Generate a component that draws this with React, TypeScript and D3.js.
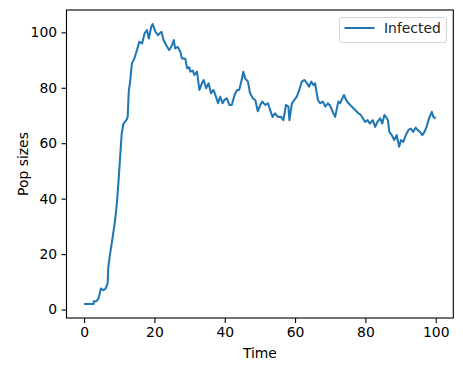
import { useEffect, useRef } from 'react';
import * as d3 from 'd3';

// values (Gillespie-style trajectory)
const TIME = [
  0, 2.7, 2.8, 3.5, 4.1, 4.8, 5.5, 6.1, 6.7, 6.9, 7.4, 8.0, 8.8, 9.3, 9.75, 10.2, 10.7, 11.2, 11.6, 12.1,
  12.4, 12.7, 13.15, 13.6, 14.3, 15.05, 15.7, 16.5, 17.2, 17.9, 18.4, 19.1, 19.5, 20.3, 21, 22, 22.6, 23.6, 24.2, 24.8,
  25.5, 25.9, 26.6, 27.4, 27.8, 28.8, 29.3, 29.9, 30.2, 30.9, 31.4, 32.1, 32.8, 33.5, 34, 34.7, 35.4, 36.1, 36.8, 37.5,
  38.1, 38.7, 39.4, 39.9, 40.6, 41.3, 42, 42.8, 43.5, 44.1, 44.7, 45.3, 45.8, 46.6, 47.2, 48, 48.7, 49.4, 50.1, 50.7,
  51.5, 52.3, 52.9, 53.6, 54.3, 55.1, 56, 56.7, 57.4, 58.1, 58.4, 59.1, 59.8, 60.5, 61.2, 61.9, 62.7, 63.4, 64, 64.6,
  65.2, 65.7, 66.5, 67.1, 67.9, 68.6, 69.3, 70, 70.9, 71.4, 72.3, 72.8, 73.9, 74.5, 75.2, 76.1, 77.1, 78, 78.7, 79.3,
  79.9, 80.6, 81.3, 82.1, 82.8, 83.4, 84.2, 84.8, 85.4, 86.1, 86.4, 86.8, 87.5, 88.2, 88.9, 89.6, 90.1, 90.8, 91.5, 92.2,
  92.9, 93.6, 94.3, 94.9, 95.5, 96.2, 96.8, 97.4, 98.1, 98.9, 99.3, 100,
];
const INFECTED = [
  2, 2, 3, 3, 4, 7.6, 7, 7.5, 9.4, 15.4, 20.2, 25, 32, 38, 45.5, 54, 63.5, 67, 67.7, 68.5,
  69.5, 78.6, 82.8, 88.8, 90.6, 93.6, 96.6, 96, 99.6, 100.8, 97.8, 102, 103, 100.2, 99, 100.2, 97.2, 94.8, 93.6, 94.8,
  97.2, 94.2, 94.8, 93, 90.6, 90.5, 87, 87.4, 85.8, 86.2, 84.6, 85.8, 79.2, 81.6, 82.8, 79.8, 81.6, 78, 79.2, 76.8,
  74.4, 76.8, 74.4, 75.6, 76.2, 73.8, 73.8, 77.4, 79.2, 79.2, 82.2, 85.8, 83.4, 82.2, 78, 76.2, 75.5, 71.5, 73.8, 75,
  73.8, 74.4, 72, 69.5, 70.8, 69.5, 69.5, 68.3, 73.8, 73.2, 68.3, 74.4, 75.6, 76.8, 79.2, 82.2, 82.8, 81.6, 80.4, 82.2,
  81, 81.6, 75.6, 74.4, 75, 73.2, 74.4, 73.5, 70.8, 69.5, 75, 74.4, 77.4, 75.6, 74.4, 73.2, 72, 70.8, 70.2, 69,
  67.7, 68.3, 67.1, 68.3, 65.9, 67.7, 69, 67.1, 70.2, 69, 68.3, 64.1, 62.9, 61.1, 62.9, 58.7, 61.1, 60.5, 62.9, 64.7,
  65.3, 64.1, 65.6, 64.7, 64.1, 62.9, 64.1, 65.9, 69, 71.3, 69.5, 69,
];
const X_TICKS = [0, 20, 40, 60, 80, 100];
const Y_TICKS = [0, 20, 40, 60, 80, 100];

const W = 463;
const H = 371;
const M = { top: 10, right: 9.7, bottom: 53, left: 66.5 };
const FONT = 'DejaVu Sans, sans-serif';
const LINE_W = 2.05;

export default function App() {
  const svgRef = useRef<SVGSVGElement>(null);

  useEffect(() => {
    if (!svgRef.current) return;
    const svg = d3.select(svgRef.current);
    svg.selectAll('*').remove();

    const pad = (lo: number, hi: number) => {
      const d = (hi - lo) * 0.05;
      return [lo - d, hi + d];
    };
    const [xlo, xhi] = d3.extent(TIME) as [number, number];
    const [ylo, yhi] = d3.extent(INFECTED) as [number, number];

    const x = d3.scaleLinear().domain(pad(xlo, xhi)).range([M.left, W - M.right]);
    const y = d3.scaleLinear().domain(pad(ylo, yhi)).range([H - M.bottom, M.top]);

    const pts = TIME.map((t, i) => [t, INFECTED[i]] as [number, number]);

    // the line
    svg.append('path')
      .datum(pts)
      .attr('fill', 'none')
      .attr('stroke', '#1f77b4')
      .attr('stroke-width', LINE_W)
      .attr('stroke-linejoin', 'round')
      .attr('d', d3.line<[number, number]>().x(d => x(d[0])).y(d => y(d[1])));

    // axes
    const xAxis = d3.axisBottom(x).tickValues(X_TICKS).tickSize(4.9).tickPadding(4.5).tickFormat(d3.format('d'));
    const yAxis = d3.axisLeft(y).tickValues(Y_TICKS).tickSize(4.9).tickPadding(4.5).tickFormat(d3.format('d'));

    const styleAxis = (g: d3.Selection<SVGGElement, unknown, null, undefined>) => {
      g.select('.domain').remove();
      g.selectAll('.tick line').attr('stroke', '#000').attr('stroke-width', 1.1);
      g.selectAll('.tick text').attr('fill', '#000').attr('font-size', 13.9).attr('font-family', FONT);
    };

    svg.append('g')
      .attr('transform', `translate(0,${H - M.bottom})`)
      .call(xAxis)
      .call(styleAxis);

    svg.append('g')
      .attr('transform', `translate(${M.left},0)`)
      .call(yAxis)
      .call(styleAxis);

    // frame
    svg.append('rect')
      .attr('x', M.left)
      .attr('y', M.top)
      .attr('width', W - M.left - M.right)
      .attr('height', H - M.top - M.bottom)
      .attr('fill', 'none')
      .attr('stroke', '#000')
      .attr('stroke-width', 1.1);

    // axis labels
    svg.append('text')
      .attr('x', (M.left + W - M.right) / 2)
      .attr('y', 358)
      .attr('text-anchor', 'middle')
      .attr('font-size', 13.9)
      .attr('font-family', FONT)
      .text('Time');

    svg.append('text')
      .attr('transform', `translate(28,${(M.top + H - M.bottom) / 2}) rotate(-90)`)
      .attr('text-anchor', 'middle')
      .attr('font-size', 13.9)
      .attr('font-family', FONT)
      .text('Pop sizes');

    // legend
    const lg = svg.append('g').attr('transform', 'translate(339.5,17.5)');
    lg.append('rect')
      .attr('width', 107)
      .attr('height', 25)
      .attr('rx', 2.5)
      .attr('fill', 'rgba(255,255,255,0.8)')
      .attr('stroke', '#d5d5d5')
      .attr('stroke-width', 1);
    lg.append('line')
      .attr('x1', 5).attr('x2', 35)
      .attr('y1', 10.5).attr('y2', 10.5)
      .attr('stroke', '#1f77b4')
      .attr('stroke-width', LINE_W);
    lg.append('text')
      .attr('x', 44.5)
      .attr('y', 15.5)
      .attr('font-size', 13.9)
      .attr('font-family', FONT)
      .attr('fill', '#222')
      .text('Infected');
  }, []);

  return (
    <svg
      ref={svgRef}
      width={W}
      height={H}
      style={{ position: 'absolute', left: 0, top: 0, background: '#fff' }}
    />
  );
}
